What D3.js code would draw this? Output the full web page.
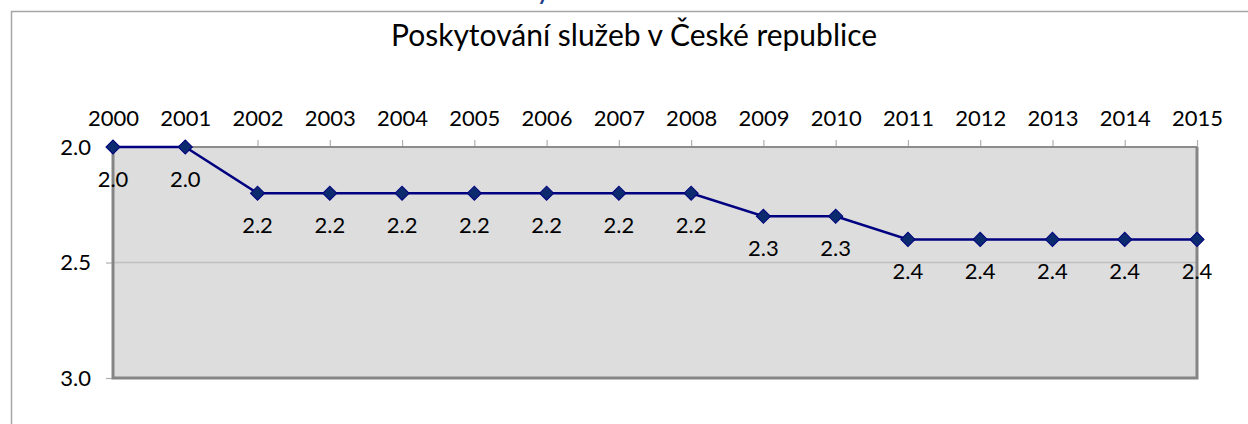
<!DOCTYPE html>
<html>
<head>
<meta charset="utf-8">
<script src="https://cdn.jsdelivr.net/npm/d3@7"></script>
<style>
  body { margin: 0; background: #fff; }
  svg { display: block; font-family: Lato, "Noto Sans", sans-serif; }
</style>
</head>
<body>
<div id="chart"></div>
<script>
// data
const years = ["2000", "2001", "2002", "2003", "2004", "2005", "2006", "2007",
  "2008", "2009", "2010", "2011", "2012", "2013", "2014", "2015"];
const values = [2.0, 2.0, 2.2, 2.2, 2.2, 2.2, 2.2, 2.2, 2.2, 2.3, 2.3, 2.4, 2.4, 2.4, 2.4, 2.4];
const yTicks = [2.0, 2.5, 3.0];
const title = "Poskytování služeb v České republice";

const svgWidth = 1248, svgHeight = 424;
const plot = { left: 113, right: 1197, top: 147, bottom: 378 };

const svg = d3.select("#chart").append("svg")
  .attr("width", svgWidth)
  .attr("height", svgHeight);

// cut off text fragment above the frame
svg.append("text")
  .attr("x", 536).attr("y", -1)
  .attr("fill", "#1f3c88")
  .style("font-size", "30px")
  .text("y");

// outer chart frame (runs off the picture right and bottom)
svg.append("rect")
  .attr("x", 11.5).attr("y", 11.5)
  .attr("width", 1300).attr("height", 500)
  .attr("fill", "none")
  .attr("stroke", "#a6a6a6")
  .attr("stroke-width", 1.5);

svg.append("text")
  .attr("x", 634).attr("y", 46)
  .attr("text-anchor", "middle")
  .attr("fill", "#000")
  .style("font-size", "30px")
  .text(title);

//////////
// AXES //
//////////

const x = d3.scalePoint()
  .domain(years)
  .range([plot.left, plot.right]);

const y = d3.scaleLinear()
  .domain([2, 3])
  .range([plot.top, plot.bottom]);

// plot background
svg.append("rect")
  .attr("x", plot.left).attr("y", plot.top)
  .attr("width", plot.right - plot.left)
  .attr("height", plot.bottom - plot.top)
  .attr("fill", "#dddddd");

// gridlines
svg.append("g")
  .selectAll("line")
  .data(yTicks)
  .join("line")
  .attr("x1", plot.left).attr("x2", plot.right)
  .attr("y1", d => y(d)).attr("y2", d => y(d))
  .attr("stroke", "#c0c0c0")
  .attr("stroke-width", 1.5);

const xAxis = d3.axisTop(x).tickSize(7).tickPadding(14);
const yAxis = d3.axisLeft(y).tickValues(yTicks).tickSize(7).tickPadding(15)
  .tickFormat(d3.format(".1f"));

const gx = svg.append("g")
  .attr("transform", "translate(0," + plot.top + ")")
  .call(xAxis);

const gy = svg.append("g")
  .attr("transform", "translate(" + plot.left + ",0)")
  .call(yAxis);

[gx, gy].forEach(g => {
  g.select(".domain").remove();
  g.selectAll(".tick line").attr("stroke", "#b0b0b0").attr("stroke-width", 1.2);
  g.selectAll(".tick text")
    .attr("fill", "#000")
    .style("font-size", "22px")
    .style("font-family", "Lato, 'Noto Sans', sans-serif");
});

// plot border: thin top, heavier left/right/bottom
svg.append("line")
  .attr("x1", plot.left).attr("x2", plot.right)
  .attr("y1", plot.top).attr("y2", plot.top)
  .attr("stroke", "#8c8c8c").attr("stroke-width", 2);
svg.append("path")
  .attr("d", "M" + plot.left + "," + plot.top + "V" + plot.bottom + "H" + plot.right + "V" + plot.top)
  .attr("fill", "none")
  .attr("stroke", "#858585")
  .attr("stroke-width", 3);

////////////
// SERIES //
////////////

const data = years.map((yr, i) => ({ year: yr, value: values[i] }));

svg.append("path")
  .datum(data)
  .attr("fill", "none")
  .attr("stroke", "#000080")
  .attr("stroke-width", 2.5)
  .attr("d", d3.line().x(d => x(d.year)).y(d => y(d.value)));

svg.append("g")
  .selectAll("path")
  .data(data)
  .join("path")
  .attr("transform", d => "translate(" + x(d.year) + "," + y(d.value) + ") rotate(45)")
  .attr("d", d3.symbol().type(d3.symbolSquare).size(100))
  .attr("fill", "#0c2a6e")
  .attr("stroke", "#000080")
  .attr("stroke-width", 1);

// value labels under each point
svg.append("g")
  .selectAll("text")
  .data(data)
  .join("text")
  .attr("x", d => x(d.year))
  .attr("y", d => y(d.value) + 40)
  .attr("text-anchor", "middle")
  .attr("fill", "#000")
  .style("font-size", "22px")
  .text(d => d3.format(".1f")(d.value));
</script>
</body>
</html>
